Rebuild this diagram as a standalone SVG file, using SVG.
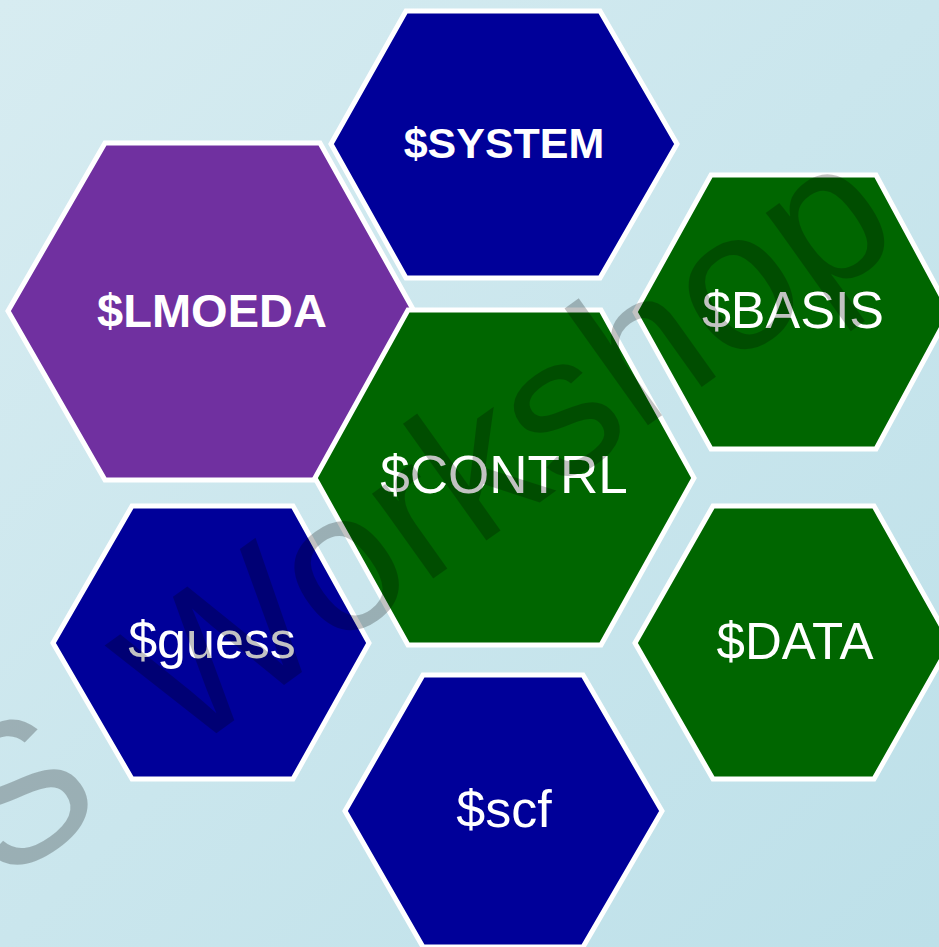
<svg xmlns="http://www.w3.org/2000/svg" width="939" height="947" viewBox="0 0 939 947">
  <defs>
    <linearGradient id="bg" x1="0" y1="0" x2="1" y2="1">
      <stop offset="0" stop-color="#d7ecf1"/>
      <stop offset="1" stop-color="#bde0e9"/>
    </linearGradient>
  </defs>
  <style>
    .hex { stroke: #ffffff; stroke-width: 5; stroke-linejoin: miter; }
    .navy { fill: #000099; }
    .purple { fill: #7030a0; }
    .green { fill: #006600; }
    .lbl { font-family: "Liberation Sans", Arial, sans-serif; fill: #ffffff; text-anchor: middle; }
    .bold { font-weight: bold; }
    .wm { font-family: "Liberation Sans", Arial, sans-serif; font-size: 198px; fill: #000000; fill-opacity: 0.24; }
  </style>
  <rect x="0" y="0" width="939" height="947" fill="url(#bg)"/>

  <g id="node-system">
    <polygon class="hex navy" points="406,11 600,11 677,144 600,278 406,278 331,144"/>
    <text class="lbl bold" x="504" y="158" font-size="43">$SYSTEM</text>
  </g>
  <g id="node-lmoeda">
    <polygon class="hex purple" points="105,143 320,143 414,311 320,480 105,480 8,311"/>
    <text class="lbl bold" x="212" y="327" font-size="47">$LMOEDA</text>
  </g>
  <g id="node-basis">
    <polygon class="hex green" points="711,175 876,175 950,312 876,449 711,449 635,312"/>
    <text class="lbl" x="793" y="328" font-size="52">$BASIS</text>
  </g>
  <g id="node-contrl">
    <polygon class="hex green" points="408,310 601,310 694,478 601,645 408,645 315,478"/>
    <text class="lbl" x="504" y="493" font-size="53">$CONTRL</text>
  </g>
  <g id="node-guess">
    <polygon class="hex navy" points="132,506 293,506 369,643 293,779 132,779 53,643"/>
    <text class="lbl" x="212" y="658" font-size="52">$guess</text>
  </g>
  <g id="node-data">
    <polygon class="hex green" points="713,506 874,506 951,643 874,779 713,779 635,643"/>
    <text class="lbl" x="795" y="659" font-size="51">$DATA</text>
  </g>
  <g id="node-scf">
    <polygon class="hex navy" points="423,675 583,675 662,811 583,947 423,947 345,811"/>
    <text class="lbl" x="504" y="827" font-size="52">$scf</text>
  </g>

  <g id="connectors"></g>

  <g id="watermark" transform="translate(183,757) rotate(-35.5)">
    <text class="wm" y="0"><tspan x="-222">S</tspan><tspan x="0">Workshop</tspan></text>
  </g>
</svg>
